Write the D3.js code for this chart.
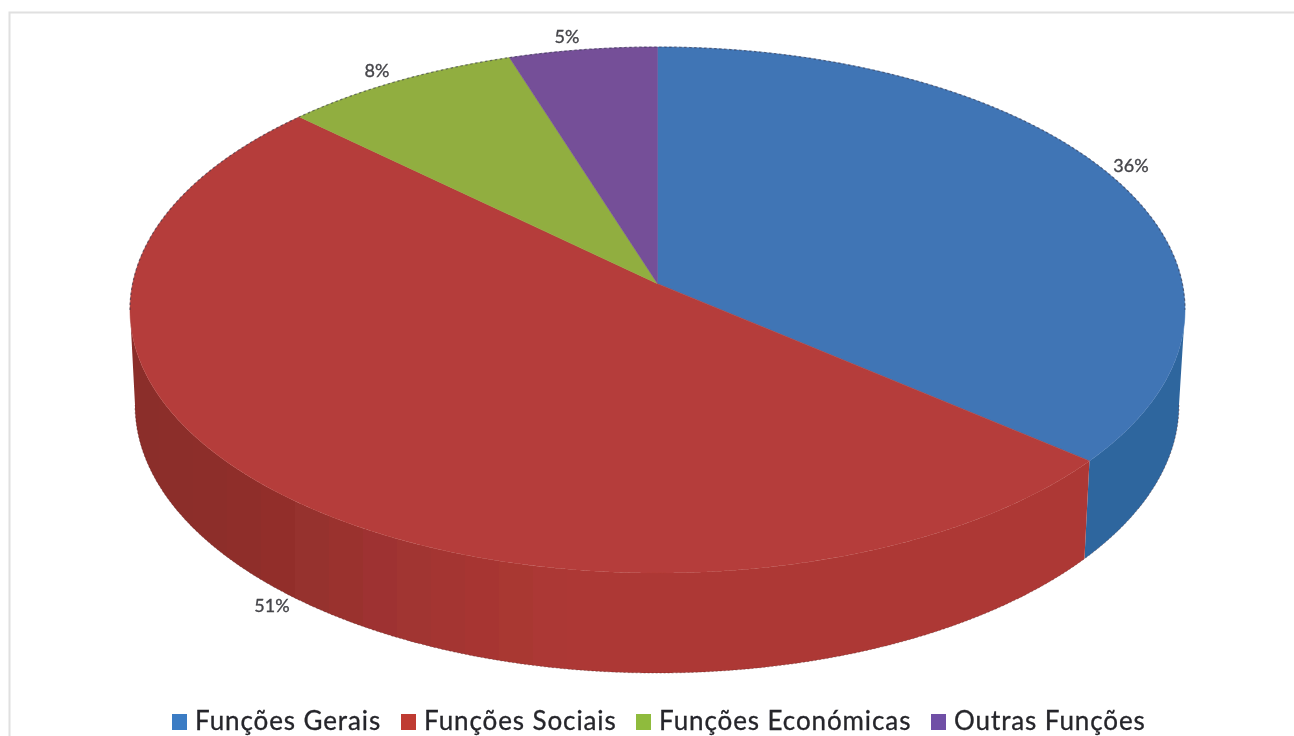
<!DOCTYPE html>
<html>
<head>
<meta charset="utf-8">
<script src="https://d3js.org/d3.v7.min.js"></script>
<style>
html,body{margin:0;padding:0;background:#fff;overflow:hidden}
svg{display:block}
</style>
</head>
<body>
<svg id="chart" width="1294" height="736"></svg>
<script>
const categories = ["Funções Gerais", "Funções Sociais", "Funções Económicas", "Outras Funções"];
const shares = [36, 51, 8, 5];
const topColors = ["#3f74b5", "#b53e3a", "#91ae41", "#744f98"];
const sideColors = ["#3069a3", "#b33a36", "#7c9637", "#5f4180"];
const legendColors = ["#3b7cc4", "#bf3a32", "#8fbb3c", "#6f50a6"];

const svg = d3.select("#chart");
const W = 1294, H = 736;
const defs = svg.append("defs");
defs.append("filter").attr("id", "soft")
  .attr("x", 0).attr("y", 0).attr("width", W).attr("height", H)
  .attr("filterUnits", "userSpaceOnUse")
  .append("feGaussianBlur").attr("stdDeviation", 0.55);
const root = svg.append("g").attr("filter", "url(#soft)");

// frame
root.append("path").attr("d", d3.line()([[9.5, H], [9.5, 12.5], [W, 12.5]]))
  .attr("fill", "none").attr("stroke", "#e0e0e0").attr("stroke-width", 2);

// ellipses of the top face and base
const topE = {cx: 657.5, cy: 310, rx: 527.5, ry: 263};
const baseE = {cx: 657, cy: 405, rx: 522, ry: 268};
const tilt = 0.1; // perspective displacement of the pie's centre on the top face

const pie = d3.pie().sort(null).startAngle(0).endAngle(2 * Math.PI);
const arcs = pie(shares);

// pie angle -> angle on the projected ellipse (clockwise from the top)
function project(a) {
  const x = Math.sin(a), y = Math.cos(a), d = 1 + tilt * y;
  return Math.atan2(x * Math.sqrt(1 - tilt * tilt) / d, (y + tilt) / d);
}
const norm = t => t < 0 ? t + 2 * Math.PI : t;
const ell = (E, t) => [E.cx + E.rx * Math.sin(t), E.cy - E.ry * Math.cos(t)];
const apex = [topE.cx, topE.cy - tilt * topE.ry];
const line = d3.line();

const spans = arcs.map((d, i) => ({
  i,
  t0: i === 0 ? 0 : norm(project(d.startAngle)),
  t1: i === arcs.length - 1 ? 2 * Math.PI : norm(project(d.endAngle))
}));

// side wall: a horizontal gradient with hard steps gives the vertical bands
const rad = Math.PI / 180;
const xMin = 125, xMax = 1190;
const shade = d3.scaleLinear()
  .domain([125, 260, 330, 430, 560, 1190])
  .range([0.77, 0.80, 0.85, 0.91, 0.965, 0.97]);
const bandWidth = 34;
const bandEdges = d3.range(xMin, xMax, bandWidth).concat([xMax]);
const sideG = root.append("g");
spans.forEach(s => {
  const a = Math.max(s.t0, 90 * rad), b = Math.min(s.t1, 270 * rad);
  if (b <= a) return;
  const id = "side" + s.i;
  const grad = defs.append("linearGradient").attr("id", id)
    .attr("gradientUnits", "userSpaceOnUse")
    .attr("x1", xMin).attr("x2", xMax).attr("y1", 0).attr("y2", 0);
  const c = d3.color(sideColors[s.i]);
  d3.pairs(bandEdges).forEach(([u, v]) => {
    const k = shade((u + v) / 2);
    const col = d3.rgb(c.r * k, c.g * k, c.b * k).formatHex();
    grad.append("stop").attr("offset", (u - xMin) / (xMax - xMin)).attr("stop-color", col);
    grad.append("stop").attr("offset", (v - xMin) / (xMax - xMin)).attr("stop-color", col);
  });
  const ts = d3.range(a, b, 0.004).concat([b]);
  const pts = ts.map(t => ell(topE, t)).concat(ts.slice().reverse().map(t => ell(baseE, t)));
  sideG.append("path").attr("d", line(pts) + "Z").attr("fill", `url(#${id})`);
});

// silhouette of the base
const baseRange = d3.range(90 * rad, 270 * rad, 0.004);
root.append("path").attr("d", line(baseRange.map(t => ell(baseE, t))))
  .attr("fill", "none").attr("stroke", "#4a2020").attr("stroke-width", 1)
  .attr("stroke-dasharray", "2 2").attr("stroke-opacity", 0.4);

// top face
const topG = root.append("g");
spans.forEach(s => {
  const ts = d3.range(s.t0, s.t1, 0.003).concat([s.t1]);
  topG.append("path")
    .attr("d", line([apex].concat(ts.map(t => ell(topE, t)))) + "Z")
    .attr("fill", topColors[s.i]).attr("stroke", topColors[s.i]).attr("stroke-width", 0.5);
});

// dark aliased rim on the far edge
const rimRange = d3.range(-90 * rad, 90 * rad, 0.003);
root.append("path").attr("d", line(rimRange.map(t => ell(topE, t))))
  .attr("fill", "none").attr("stroke", "#33334a").attr("stroke-width", 1.2)
  .attr("stroke-dasharray", "2.5 2.5").attr("stroke-opacity", 0.6);

// data labels
const labelPos = [[1131, 172], [272, 612], [377, 77], [567, 43]];
root.append("g").selectAll("text").data(shares).join("text")
  .attr("x", (d, i) => labelPos[i][0]).attr("y", (d, i) => labelPos[i][1])
  .attr("text-anchor", "middle")
  .attr("font-family", "Lato, 'Open Sans', sans-serif")
  .attr("font-size", 18).attr("fill", "#45454a")
  .attr("stroke", "#45454a").attr("stroke-width", 0.35)
  .text(d => d + "%");

// legend
const swatchX = [172, 401, 636, 931];
const legend = root.append("g").selectAll("g").data(categories).join("g");
legend.append("rect")
  .attr("x", (d, i) => swatchX[i]).attr("y", 714).attr("width", 15).attr("height", 16)
  .attr("fill", (d, i) => legendColors[i]);
legend.append("text")
  .attr("x", (d, i) => swatchX[i] + 23).attr("y", 730)
  .attr("font-family", "Lato, 'Open Sans', sans-serif")
  .attr("font-size", 26).attr("fill", "#25252a")
  .attr("stroke", "#25252a").attr("stroke-width", 0.3)
  .attr("letter-spacing", 0.9)
  .text(d => d);
</script>
</body>
</html>
